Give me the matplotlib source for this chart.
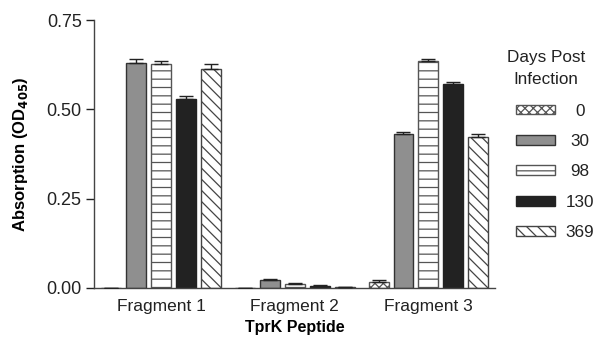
import matplotlib
matplotlib.use("Agg")
import matplotlib.pyplot as plt
import numpy as np

plt.rcParams['font.family'] = ['Liberation Sans', 'DejaVu Sans']
plt.rcParams['hatch.linewidth'] = 0.9

fragments = ["Fragment 1", "Fragment 2", "Fragment 3"]
days = ["0", "30", "98", "130", "369"]
# values[day][fragment]
values = {
    "0":   [0.000, 0.000, 0.017],
    "30":  [0.629, 0.022, 0.431],
    "98":  [0.626, 0.010, 0.635],
    "130": [0.530, 0.006, 0.570],
    "369": [0.614, 0.003, 0.423],
}
errors = {
    "0":   [0.000, 0.000, 0.005],
    "30":  [0.013, 0.003, 0.007],
    "98":  [0.011, 0.003, 0.005],
    "130": [0.008, 0.002, 0.007],
    "369": [0.012, 0.001, 0.008],
}

styles = {
    "0":   dict(facecolor="white", hatch="xxxx", edgecolor="#555555"),
    "30":  dict(facecolor="#8f8f8f", hatch=None, edgecolor="#333333"),
    "98":  dict(facecolor="white", hatch="--", edgecolor="#555555"),
    "130": dict(facecolor="#222222", hatch=None, edgecolor="#222222"),
    "369": dict(facecolor="white", hatch="\\\\\\", edgecolor="#444444"),
}

fig = plt.figure(figsize=(5.96, 3.42), dpi=100)
ax = fig.add_axes([0.158, 0.158, 0.673, 0.783])

x = np.arange(len(fragments))
pitch = 25 / 134
width = 20 / 134
handles = []
for j, d in enumerate(days):
    xs = x + (j - 2) * pitch
    st = styles[d]
    b = ax.bar(xs, values[d], width, facecolor=st["facecolor"], edgecolor=st["edgecolor"],
               hatch=st["hatch"], linewidth=1.0, label=d, zorder=2)
    ax.errorbar(xs, values[d], yerr=[np.zeros(3), errors[d]], fmt="none",
                ecolor="#222222", elinewidth=1.0, capsize=5, capthick=1.0, zorder=3)
    handles.append(b)

ax.set_xlim(-0.5, 2.5)
ax.set_ylim(0, 0.75)
ax.set_yticks([0, 0.25, 0.5, 0.75])
ax.set_yticklabels(["0.00", "0.25", "0.50", "0.75"])
ax.set_xticks(x)
ax.set_xticklabels(fragments)
ax.tick_params(axis="x", length=0, labelsize=12.5, pad=8, colors="#222222")
ax.tick_params(axis="y", length=6, width=1, labelsize=13, colors="#222222",
               direction="out", pad=3)
for s in ["top", "right"]:
    ax.spines[s].set_visible(False)
for s in ["left", "bottom"]:
    ax.spines[s].set_color("#444444")
    ax.spines[s].set_linewidth(1.0)

ax.set_xlabel("TprK Peptide", fontsize=11.5, fontweight="bold", labelpad=4)
ax.set_ylabel(r"Absorption (OD$_{\mathbf{405}}$)", fontsize=12, fontweight="bold", labelpad=12)

fig.text(546 / 596, 1 - 68.5 / 342, "Days Post\nInfection", ha="center", va="center",
         multialignment="center", fontsize=12.3, color="#222222", linespacing=1.55)
leg = fig.legend(handles=handles, labels=days,
                 loc="upper left", bbox_to_anchor=(0.84, 0.742), frameon=False,
                 fontsize=12.3, handlelength=2.3, handleheight=0.5,
                 labelspacing=0.9, handletextpad=0.6)
# center the legend labels within their column
renderer = fig.canvas.get_renderer()
texts = leg.get_texts()
widths = [t.get_window_extent(renderer).width for t in texts]
wmax = max(widths)
for t, w in zip(texts, widths):
    t.set_color("#222222")
    t.set_x((wmax - w) / 2)

fig.savefig("out.png", dpi=100)
